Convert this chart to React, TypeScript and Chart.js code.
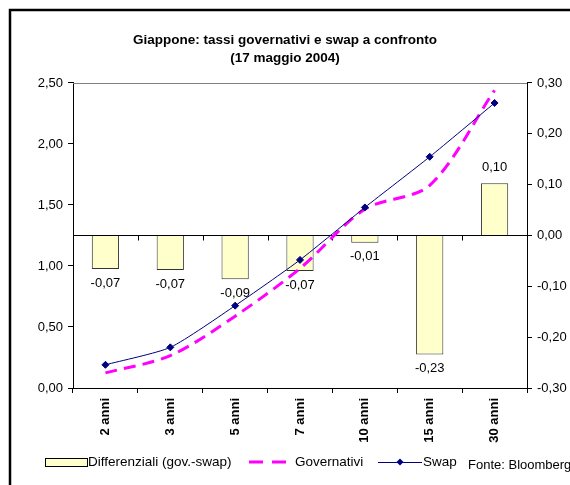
import React, { useEffect, useRef } from 'react';
import { Chart, registerables } from 'chart.js';

Chart.register(...registerables);

const titleLines = ['Giappone: tassi governativi e swap a confronto', '(17 maggio 2004)'];
const categories = ['2 anni', '3 anni', '5 anni', '7 anni', '10 anni', '15 anni', '30 anni'];
const differenziali = [-0.066, -0.068, -0.086, -0.07, -0.0145, -0.234, 0.103];
const governativi = [0.124, 0.265, 0.589, 0.98, 1.466, 1.661, 2.44];
const swap = [0.19, 0.333, 0.675, 1.05, 1.48, 1.895, 2.336];
const leftTicks = [0, 0.5, 1, 1.5, 2, 2.5];
const rightTicks = [-0.3, -0.2, -0.1, 0, 0.1, 0.2, 0.3];
const legendLabels = ['Differenziali (gov.-swap)', 'Governativi', 'Swap'];
const sourceNote = 'Fonte: Bloomberg';

const FONT = 'Arial, "Liberation Sans", sans-serif';
const fmt = (v: number) => v.toFixed(2).replace('.', ',');

const BAR_FILL = '#FFFFCC';
const BAR_BORDER = '#333333';
const GOV_COLOR = '#FF00FF';
const SWAP_COLOR = '#000080';

const decorPlugin = {
  id: 'decor',
  beforeDraw(chart: any) {
    const ctx = chart.ctx;
    ctx.save();
    ctx.fillStyle = '#ffffff';
    ctx.fillRect(0, 0, chart.width, chart.height);
    ctx.strokeStyle = '#000000';
    ctx.lineWidth = 2.5;
    ctx.beginPath();
    ctx.moveTo(10, chart.height + 5);
    ctx.lineTo(10, 10);
    ctx.lineTo(chart.width + 5, 10);
    ctx.stroke();
    ctx.restore();
  },
  beforeDatasetsDraw(chart: any) {
    const ctx = chart.ctx;
    const a = chart.chartArea;
    const y1 = chart.scales.y1;
    ctx.save();
    ctx.lineWidth = 1;
    ctx.strokeStyle = '#808080';
    ctx.beginPath();
    ctx.moveTo(a.left, Math.round(a.top) + 0.5);
    ctx.lineTo(a.right, Math.round(a.top) + 0.5);
    ctx.stroke();
    const zy = Math.round(y1.getPixelForValue(0)) + 0.5;
    ctx.strokeStyle = '#000000';
    ctx.beginPath();
    ctx.moveTo(a.left, zy);
    ctx.lineTo(a.right, zy);
    const n = categories.length;
    const w = (a.right - a.left) / n;
    for (let i = 1; i < n; i++) {
      const tx = Math.round(a.left + i * w) + 0.5;
      ctx.moveTo(tx, zy);
      ctx.lineTo(tx, zy + 5);
    }
    ctx.stroke();
    ctx.restore();
  },
  afterDatasetsDraw(chart: any) {
    const ctx = chart.ctx;
    const meta = chart.getDatasetMeta(0);
    ctx.save();
    ctx.font = `13px ${FONT}`;
    ctx.fillStyle = '#000000';
    ctx.textAlign = 'center';
    ctx.textBaseline = 'middle';
    meta.data.forEach((bar: any, i: number) => {
      const v = differenziali[i];
      const y = v < 0 ? bar.y + 14 : bar.y - 16;
      ctx.fillText(fmt(v), bar.x, y);
    });
    ctx.restore();
  },
  afterDraw(chart: any) {
    const ctx = chart.ctx;
    const ly = 462;
    ctx.save();
    ctx.font = `13.5px ${FONT}`;
    ctx.textBaseline = 'middle';
    ctx.textAlign = 'left';
    ctx.fillStyle = BAR_FILL;
    ctx.fillRect(45.5, 458.5, 42, 8);
    ctx.strokeStyle = '#000000';
    ctx.lineWidth = 1;
    ctx.strokeRect(45.5, 458.5, 42, 8);
    ctx.fillStyle = '#000000';
    ctx.fillText(legendLabels[0], 88, ly);
    ctx.strokeStyle = GOV_COLOR;
    ctx.lineWidth = 3;
    ctx.setLineDash([14, 9]);
    ctx.beginPath();
    ctx.moveTo(249, ly);
    ctx.lineTo(288, ly);
    ctx.stroke();
    ctx.setLineDash([]);
    ctx.fillText(legendLabels[1], 295, ly);
    ctx.strokeStyle = SWAP_COLOR;
    ctx.lineWidth = 1;
    ctx.beginPath();
    ctx.moveTo(378, ly + 0.5);
    ctx.lineTo(422, ly + 0.5);
    ctx.stroke();
    ctx.fillStyle = SWAP_COLOR;
    ctx.beginPath();
    ctx.moveTo(400, ly - 3.5);
    ctx.lineTo(403.5, ly);
    ctx.lineTo(400, ly + 3.5);
    ctx.lineTo(396.5, ly);
    ctx.closePath();
    ctx.fill();
    ctx.fillStyle = '#000000';
    ctx.fillText(legendLabels[2], 423, ly);
    ctx.font = `13px ${FONT}`;
    ctx.fillText(sourceNote, 468, ly + 3);
    ctx.restore();
  },
};

export default function App() {
  const ref = useRef<HTMLCanvasElement | null>(null);
  useEffect(() => {
    if (!ref.current) return;
    const chart = new Chart(ref.current, {
      type: 'bar',
      data: {
        labels: categories,
        datasets: [
          {
            type: 'bar',
            label: legendLabels[0],
            data: differenziali,
            yAxisID: 'y1',
            backgroundColor: BAR_FILL,
            borderColor: BAR_BORDER,
            borderWidth: 1,
            barPercentage: 0.42,
            categoryPercentage: 1,
            order: 3,
          },
          {
            type: 'line',
            label: legendLabels[1],
            data: governativi,
            yAxisID: 'y',
            borderColor: GOV_COLOR,
            backgroundColor: GOV_COLOR,
            borderWidth: 3,
            borderDash: [12, 7],
            pointRadius: 0,
            tension: 0.3,
            fill: false,
            order: 2,
          },
          {
            type: 'line',
            label: legendLabels[2],
            data: swap,
            yAxisID: 'y',
            borderColor: SWAP_COLOR,
            backgroundColor: SWAP_COLOR,
            borderWidth: 1,
            pointStyle: 'rectRot',
            pointRadius: 3.5,
            pointBorderWidth: 1,
            tension: 0.2,
            fill: false,
            order: 1,
          },
        ],
      },
      options: {
        responsive: false,
        animation: false,
        devicePixelRatio: 1,
        layout: { padding: 0 },
        plugins: {
          legend: { display: false },
          tooltip: { enabled: false },
          title: {
            display: true,
            text: titleLines,
            color: '#000000',
            font: { family: FONT, size: 13.5, weight: 'bold', lineHeight: 1.333 },
            padding: { top: 31, bottom: 16 },
          },
        },
        scales: {
          x: {
            grid: {
              display: true,
              drawOnChartArea: false,
              drawTicks: true,
              tickLength: 5,
              color: '#000000',
              offset: true,
            },
            border: { display: true, color: '#000000' },
            ticks: {
              autoSkip: false,
              maxRotation: 90,
              minRotation: 90,
              padding: 5,
              color: '#000000',
              font: { family: FONT, size: 13, weight: 'bold' },
            },
            afterFit: (s: any) => {
              s.height = 97;
            },
          },
          y: {
            position: 'left',
            min: 0,
            max: 2.5,
            grid: { drawOnChartArea: false, drawTicks: true, tickLength: 5, color: '#000000' },
            border: { display: true, color: '#000000' },
            ticks: {
              padding: 5,
              color: '#000000',
              font: { family: FONT, size: 13 },
              callback: (v: any) => fmt(Number(v)),
            },
            afterBuildTicks: (s: any) => {
              s.ticks = leftTicks.map((v) => ({ value: v }));
            },
            afterFit: (s: any) => {
              s.width = 73;
            },
          },
          y1: {
            position: 'right',
            min: -0.3,
            max: 0.3,
            grid: { drawOnChartArea: false, drawTicks: true, tickLength: 5, color: '#000000' },
            border: { display: true, color: '#000000' },
            ticks: {
              padding: 5,
              color: '#000000',
              font: { family: FONT, size: 13 },
              callback: (v: any) => fmt(Number(v)),
            },
            afterBuildTicks: (s: any) => {
              s.ticks = rightTicks.map((v) => ({ value: v }));
            },
            afterFit: (s: any) => {
              s.width = 43;
            },
          },
        },
      },
      plugins: [decorPlugin],
    } as any);
    return () => chart.destroy();
  }, []);
  return (
    <div style={{ position: 'fixed', left: 0, top: 0, width: 570, height: 485 }}>
      <canvas ref={ref} width={570} height={485} style={{ width: 570, height: 485 }} />
    </div>
  );
}
